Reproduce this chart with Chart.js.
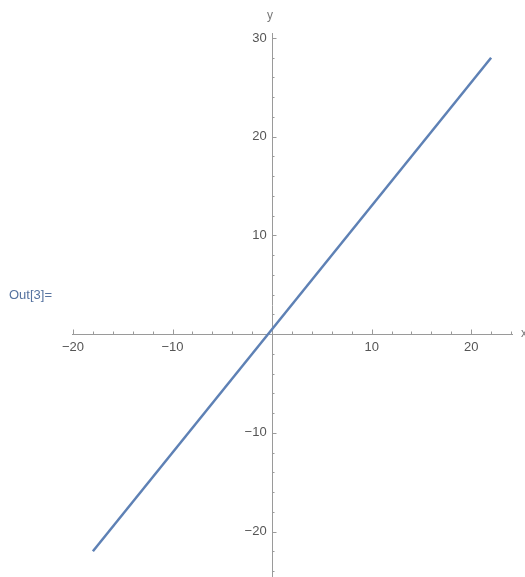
<!DOCTYPE html>
<html>
<head>
<meta charset="utf-8">
<script src="https://cdn.jsdelivr.net/npm/chart.js@4"></script>
<style>
  html, body { margin: 0; padding: 0; background: #fff; overflow: hidden; }
  #wrap { position: relative; width: 525px; height: 577px; }
  #out { position: absolute; left: 9px; top: 287px; font: 13px "Liberation Sans", sans-serif; color: #5673a0; }
</style>
</head>
<body>
<div id="wrap">
  <canvas id="plot"></canvas>
  <div id="out">Out[3]=</div>
</div>
<script>
// line y = 1.25x + 0.5
const lineX = [-18, 22];
const lineY = [-22, 28];

const xTicks = [-20, -10, 10, 20];
const yTicks = [-20, -10, 10, 20, 30];
const xRange = [-20.1, 24.1];
const yRange = [-24.6, 30.5];

const axisGray = '#9a9a9a';
const labelGray = '#555';
const tickFont = { family: '"Liberation Sans", sans-serif', size: 13 };

const fmt = v => (v < 0 ? '\u2212' + Math.abs(v) : String(v));

const points = lineX.map((x, i) => ({ x: x, y: lineY[i] }));

// axes sit inside the plot, so no room is needed for edge labels
const noEdgePadding = s => {
  s.paddingLeft = 0;
  s.paddingRight = 0;
  s.paddingTop = 0;
  s.paddingBottom = 0;
};

// minor/major tick marks on the inside of the axes, like Mathematica draws them
const axisMarks = {
  id: 'axisMarks',
  afterDraw(chart) {
    const { ctx, scales: { x, y } } = chart;
    const x0 = Math.round(x.getPixelForValue(0));
    const y0 = Math.round(y.getPixelForValue(0));
    ctx.save();
    ctx.strokeStyle = axisGray;
    ctx.lineWidth = 1;
    for (let v = Math.ceil(xRange[0] / 2) * 2; v <= xRange[1]; v += 2) {
      if (v === 0) continue;
      const px = Math.round(x.getPixelForValue(v)) + 0.5;
      const len = v % 10 === 0 ? 4.5 : 2.5;
      ctx.beginPath();
      ctx.moveTo(px, y0);
      ctx.lineTo(px, y0 - len);
      ctx.stroke();
    }
    for (let v = Math.ceil(yRange[0] / 2) * 2; v <= yRange[1]; v += 2) {
      if (v === 0) continue;
      const py = Math.round(y.getPixelForValue(v)) + 0.5;
      const len = v % 10 === 0 ? 4.5 : 2.5;
      ctx.beginPath();
      ctx.moveTo(x0, py);
      ctx.lineTo(x0 + len, py);
      ctx.stroke();
    }
    ctx.fillStyle = '#777';
    ctx.font = '12px "Liberation Sans", sans-serif';
    ctx.textAlign = 'center';
    ctx.textBaseline = 'middle';
    ctx.fillText('y', x0 - 2, 16);
    ctx.textAlign = 'left';
    ctx.fillText('x', x.right + 9, y0);
    ctx.restore();
  }
};

const ctx = document.getElementById('plot').getContext('2d');

const myChart = new Chart(ctx, {
  type: 'scatter',
  data: {
    datasets: [{
      data: points,
      showLine: true,
      borderColor: '#5e81b5',
      borderWidth: 2.5,
      pointRadius: 0,
      fill: false
    }]
  },
  options: {
    responsive: true,
    maintainAspectRatio: false,
    animation: false,
    events: [],
    layout: { padding: { left: 72, right: 13, top: 33, bottom: 0 } },
    plugins: {
      legend: { display: false },
      tooltip: { enabled: false }
    },
    scales: {
      x: {
        type: 'linear',
        min: xRange[0],
        max: xRange[1],
        position: { y: 0 },
        afterBuildTicks: s => { s.ticks = xTicks.map(v => ({ value: v })); },
        afterFit: noEdgePadding,
        grid: { display: false, drawTicks: false },
        border: { display: true, color: axisGray, width: 1 },
        ticks: { color: labelGray, font: tickFont, padding: 5, maxRotation: 0, callback: v => fmt(v) }
      },
      y: {
        type: 'linear',
        min: yRange[0],
        max: yRange[1],
        position: { x: 0 },
        afterBuildTicks: s => { s.ticks = yTicks.map(v => ({ value: v })); },
        afterFit: noEdgePadding,
        grid: { display: false, drawTicks: false },
        border: { display: true, color: axisGray, width: 1 },
        // labels are anchored on the axis itself here, so a small trailing gap
        ticks: { color: labelGray, font: tickFont, callback: v => fmt(v) + '\u2005\u2006' }
      }
    }
  },
  plugins: [axisMarks]
});
</script>
</body>
</html>
